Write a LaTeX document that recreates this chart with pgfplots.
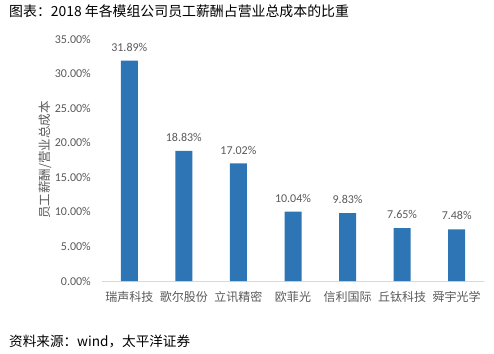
\documentclass[border=0pt]{standalone}
\usepackage{fontspec}
\setmainfont{Carlito}
\newfontfamily\cjk{Noto Sans CJK SC}
\usepackage{pgfplots}
\pgfplotsset{compat=1.18}
\definecolor{barblue}{HTML}{2E75B6}
\definecolor{txtgray}{HTML}{595959}
\definecolor{axgray}{HTML}{D9D9D9}
\begin{document}
\begin{tikzpicture}[x=1pt,y=1pt]
\useasboundingbox (0,0) rectangle (494,353);
\node[anchor=west,inner sep=0] at (9,342) {\cjk\fontsize{13.9}{16}\selectfont 图表：2018 年各模组公司员工薪酬占营业总成本的比重};
\node[anchor=west,inner sep=0] at (9,12) {\cjk\fontsize{13.6}{16}\selectfont 资料来源：wind，太平洋证券};
\begin{axis}[
  at={(102pt,72pt)}, anchor=south west,
  scale only axis, width=382pt, height=242pt,
  xmin=-0.5, xmax=6.5, ymin=0, ymax=35,
  ybar, bar width=17pt,
  axis x line*=bottom, axis y line*=left,
  x axis line style={draw=axgray, line width=0.8pt, -},
  y axis line style={draw=none},
  major tick length=0pt,
  xtick={0,...,6},
  xticklabels={瑞声科技,歌尔股份,立讯精密,欧菲光,信利国际,丘钛科技,舜宇光学},
  xticklabel style={font=\cjk\fontsize{12}{14}\selectfont, text=txtgray, inner sep=0pt, anchor=north, yshift=-10pt},
  ytick={0,5,...,35},
  yticklabel={\pgfmathprintnumber[fixed,fixed zerofill,precision=2]{\tick}\%},
  yticklabel style={font=\fontsize{12}{14}\selectfont, text=txtgray, inner sep=0pt, anchor=east, xshift=-11pt},
  /pgf/number format/assume math mode=true,
  ylabel={员工薪酬/营业总成本},
  ylabel style={font=\cjk\fontsize{12.5}{14}\selectfont, text=txtgray, at={(axis description cs:-0.149,0.5)}, anchor=center, rotate=0},
  nodes near coords={\pgfmathprintnumber[fixed,fixed zerofill,precision=2]{\pgfplotspointmeta}\%},
  nodes near coords style={font=\fontsize{12}{14}\selectfont, text=txtgray, inner sep=0pt, anchor=south, yshift=9pt},
]
\addplot[fill=barblue, draw=none] coordinates {(0,31.89) (1,18.83) (2,17.02) (3,10.04) (4,9.83) (5,7.65) (6,7.48)};
\end{axis}
\end{tikzpicture}
\end{document}
